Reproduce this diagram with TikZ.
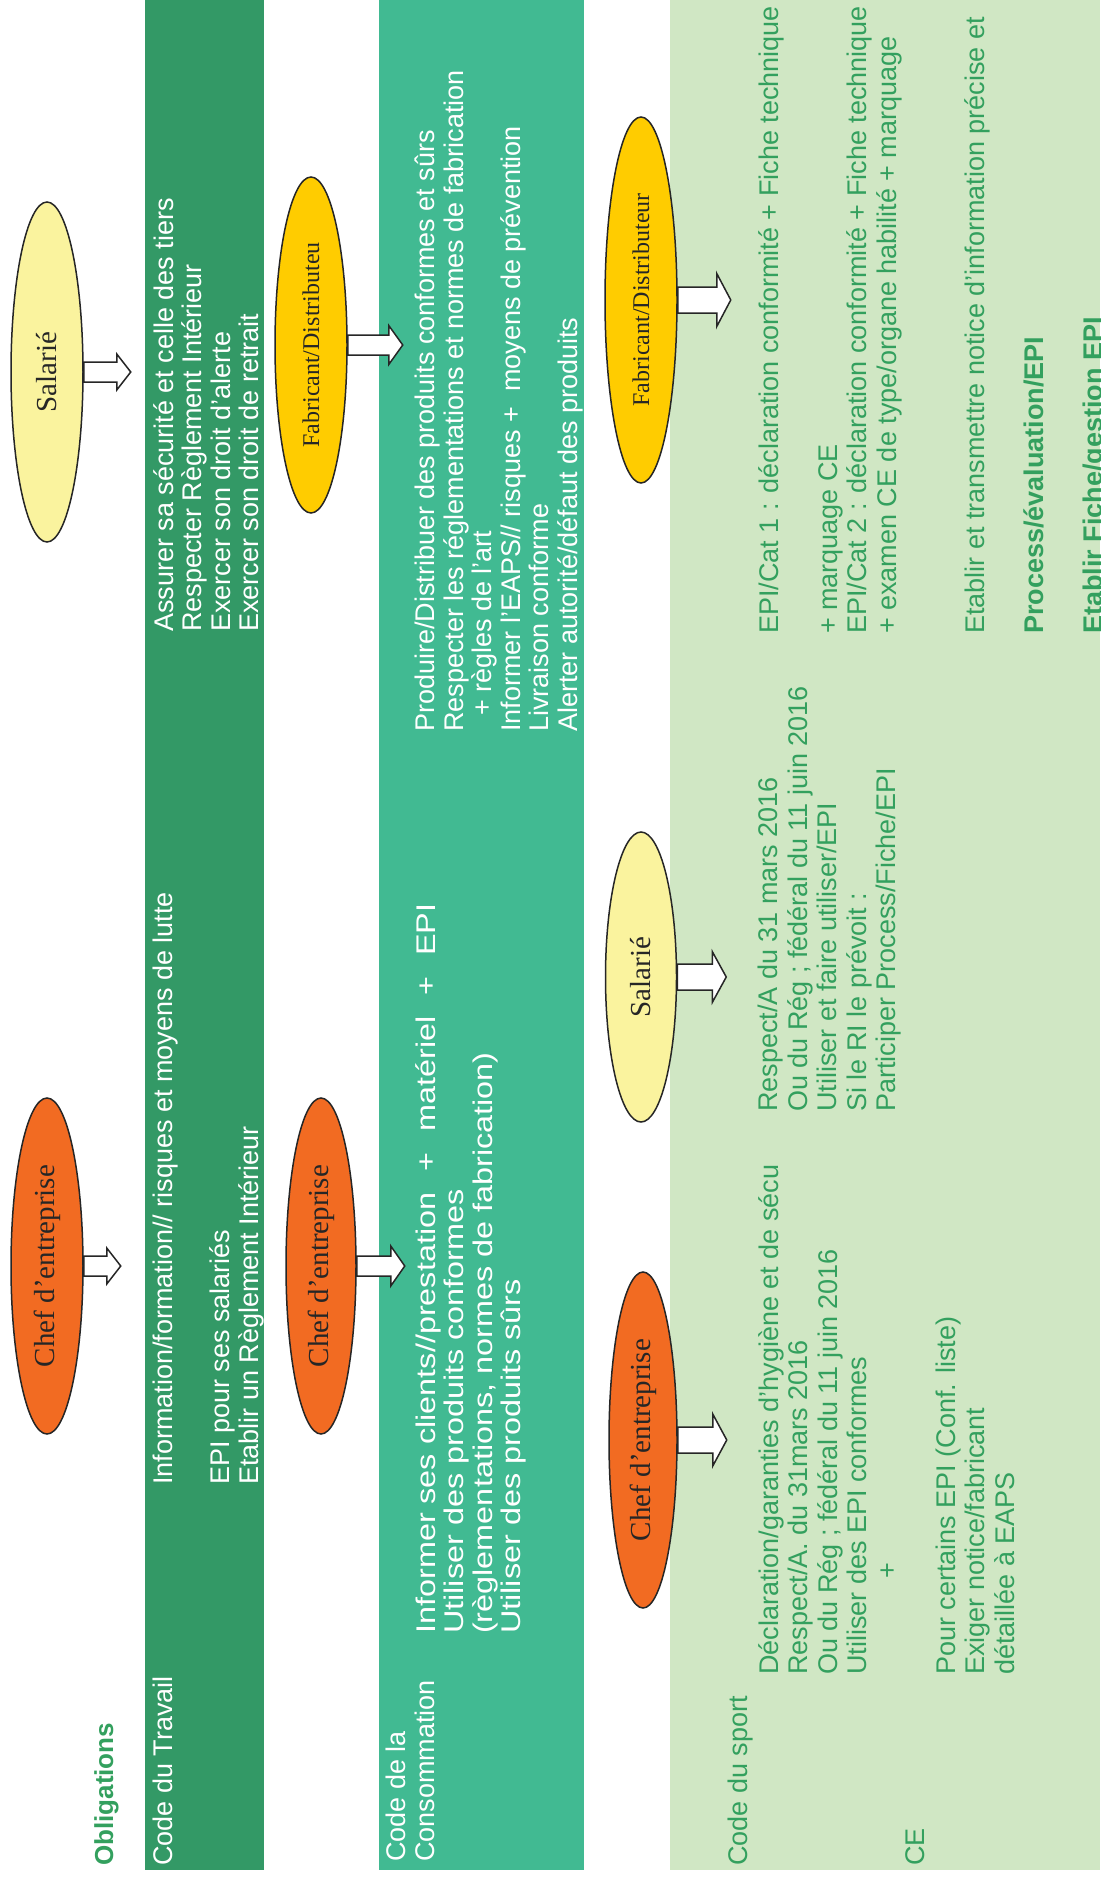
\documentclass[tikz,border=0pt]{standalone}
\usepackage{fontspec}
\setmainfont{Liberation Sans}
\newfontfamily\ellfont{Liberation Serif}
\newfontfamily\largefont{Liberation Sans}[FakeStretch=1.2]
\usetikzlibrary{shapes.geometric}

\definecolor{travail}{HTML}{339966}
\definecolor{conso}{HTML}{41BA92}
\definecolor{sport}{HTML}{D0E7C4}
\definecolor{sporttext}{HTML}{33A05E}
\definecolor{chef}{HTML}{F26B22}
\definecolor{salarie}{HTML}{FAF39E}
\definecolor{fabricant}{HTML}{FFCC00}

\tikzset{
  acteur/.style={ellipse, draw=black!85, line width=1.5pt, rotate=90, inner sep=0pt, text=black!85,
    font=\ellfont\fontsize{29}{30}\selectfont},
  texte/.style={rotate=90, anchor=north west, align=left, inner sep=0pt,
    font=\fontsize{27}{28.5}\selectfont},
  textesport/.style={texte, text=sporttext, font=\fontsize{27}{29.5}\selectfont},
  fleche/.style={draw=black!85, line width=1.5pt, fill=white, line join=miter},
}

% block arrow: start, length, head width, shaft width
\newcommand{\fleche}[4]{%
  \draw[fleche] (#1) ++(0,{#4/2}) -- ++({#2-14},0) -- ++(0,{(#3-#4)/2})
    -- ++(14,{-#3/2}) -- ++(-14,{-#3/2}) -- ++(0,{(#3-#4)/2}) -- ++({14-#2},0) -- cycle;
}

\begin{document}
\begin{tikzpicture}[x=1pt, y=-1pt]
  \useasboundingbox (0,0) rectangle (1100,1881);
  \clip (0,0) rectangle (1100,1881);
  \fill[white] (0,0) rectangle (1100,1881);

  % Bands
  \fill[travail] (145,0) rectangle (264,1870);
  \fill[conso] (379,0) rectangle (584,1870);
  \fill[sport] (670,0) rectangle (1100,1870);

  % Code du Travail
  \node[texte, text=sporttext, font=\bfseries\fontsize{26}{28}\selectfont] (oblig) at (94,1866) {Obligations};
  \node[texte, text=white] (travail) at (153,1866) {Code du Travail};
  \node[texte, text=white] (travail-chef) at (153,1485) {Information/formation//\ risques et moyens de lutte\\[28.5pt]%
    EPI pour ses salariés\\Etablir un Règlement Intérieur};
  \node[texte, text=white] (travail-sal) at (153,632) {Assurer sa sécurité et celle des tiers\\
    Respecter Règlement Intérieur\\Exercer son droit d'alerte\\Exercer son droit de retrait};

  % Code de la Consommation
  \node[texte, text=white] (conso) at (386,1862) {Code de la\\Consommation};
  \node[texte, text=white, font=\largefont\fontsize{27}{28.5}\selectfont] (conso-chef) at (415,1634)
    {Informer ses clients//prestation\hspace{12pt} + \hspace{12pt}matériel\hspace{12pt} + \hspace{12pt}EPI\\
    Utiliser des produits conformes\\(règlementations, normes de fabrication)\\Utiliser des produits sûrs};
  \node[texte, text=white] (conso-fab) at (415,732) {Produire/Distribuer des produits conformes et sûrs\\
    Respecter les réglementations et normes de fabrication\\\hspace*{16pt}+ règles de l'art\\
    Informer l'EAPS// risques +\ \ moyens de prévention\\Livraison conforme\\Alerter autorité/défaut des produits};

  % Code du sport
  \node[textesport] (sport) at (728,1866) {Code du sport};
  \node[textesport] (ce) at (905,1866) {CE};
  \node[textesport] (sport-chef) at (758,1675) {Déclaration/garanties d'hygiène et de sécu\\
    Respect/A. du 31mars 2016\\Ou du Rég ; fédéral du 11 juin 2016\\Utiliser des EPI conformes\\
    \hspace*{96pt}+\\[29.5pt]%
    Pour certains EPI (Conf. liste)\\Exiger notice/fabricant\\détaillée à EAPS};
  \node[textesport] (sport-sal) at (758,1112) {Respect/A du 31 mars 2016\\
    Ou du Rég ; fédéral du 11 juin 2016\\Utiliser et faire utiliser/EPI\\Si le RI le prévoit :\\
    Participer Process/Fiche/EPI};
  \node[textesport] (sport-fab) at (758,634) {EPI/Cat 1 : déclaration conformité + Fiche technique\\[29.5pt]%
    + marquage CE\\EPI/Cat 2 : déclaration conformité + Fiche technique\\
    + examen CE de type/organe habilité + marquage\\[59pt]%
    Etablir et transmettre notice d'information précise et\\[29.5pt]%
    \textbf{Process/évaluation/EPI}\\[29.5pt]%
    \textbf{Etablir Fiche/gestion EPI}};

  % Actors
  \node[acteur, fill=salarie, minimum width=340pt, minimum height=72pt] (sal1) at (47,372) {Salarié};
  \node[acteur, fill=chef, minimum width=336pt, minimum height=72pt] (chef1) at (47,1266) {Chef d’entreprise};
  \node[acteur, fill=fabricant, minimum width=336pt, minimum height=72pt,
    font=\ellfont\fontsize{24}{25}\selectfont] (fab2) at (311,345) {Fabricant/Distributeu};
  \node[acteur, fill=chef, minimum width=336pt, minimum height=70pt] (chef2) at (321,1266) {Chef d’entreprise};
  \node[acteur, fill=fabricant, minimum width=366pt, minimum height=72pt,
    font=\ellfont\fontsize{24}{25}\selectfont] (fab3) at (641,300) {Fabricant/Distributeur};
  \node[acteur, fill=salarie, minimum width=290pt, minimum height=71pt] (sal3) at (641,977) {Salarié};
  \node[acteur, fill=chef, minimum width=336pt, minimum height=68pt] (chef3) at (643,1440) {Chef d’entreprise};

  % Arrows
  \fleche{sal1.south}{47}{36}{20}
  \fleche{chef1.south}{37}{36}{20}
  \fleche{fab2.south}{55}{39}{20}
  \fleche{chef2.south}{48}{40}{20}
  \fleche{fab3.south}{53}{53}{26}
  \fleche{sal3.south}{49}{51}{26}
  \fleche{chef3.south}{49}{52}{26}
\end{tikzpicture}
\end{document}
